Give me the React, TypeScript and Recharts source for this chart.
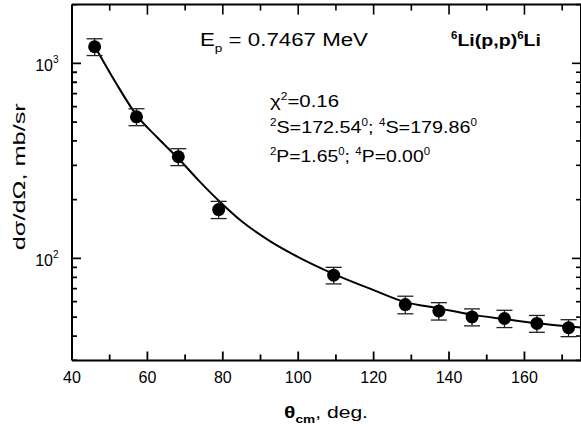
import React from 'react';
import { ComposedChart, Scatter, Line, XAxis, YAxis, ErrorBar } from 'recharts';

// measured points: angle (deg, cm), cross section (mb/sr), error (mb/sr)
const angles = [46.0, 57.1, 68.2, 78.9, 109.4, 128.4, 137.3, 146.1, 154.7, 163.3, 171.7];
const crossSections = [1216, 532, 332, 178, 82, 58, 53.8, 50.1, 49.2, 46.4, 44.1];
const errors = [120, 53, 33, 18, 8, 6, 5.5, 5, 5, 4.6, 4.4];

// fitted curve
const fitAngles = [46, 51.5, 57.1, 62.5, 68.1, 73.5, 79, 85, 92.5, 100, 109.5, 120, 128.4, 137, 146, 155, 163, 172, 175];
const fitValues = [1227, 802, 543, 419, 327, 252, 197, 155, 122.7, 101.6, 83.1, 68.8, 59.7, 55.6, 51.5, 48.8, 46.6, 44.7, 44.2];

const xTicks = [40, 50, 60, 70, 80, 90, 100, 110, 120, 130, 140, 150, 160, 170];
const xMajor = [40, 60, 80, 100, 120, 140, 160];
const yTicks = [30, 40, 50, 60, 70, 80, 90, 100, 200, 300, 400, 500, 600, 700, 800, 900, 1000, 2000];
const yMajor = [100, 1000];
const yLabels: Record<number, string> = { 100: '2', 1000: '3' };

const X_DOMAIN = [40, 175];
const Y_DOMAIN = [30, 2000];

const points = angles.map((a, i) => ({ x: a, y: crossSections[i], err: errors[i] }));
const fit = fitAngles.map((a, i) => ({ x: a, y: fitValues[i] }));
// inward tick marks on the bottom and left edges, placed through the data scales
const bottomMarks = xTicks.map((v) => ({ x: v, y: Y_DOMAIN[0] }));
const leftMarks = yTicks.map((v) => ({ x: X_DOMAIN[0], y: v }));

const FONT = '"Liberation Sans", Arial, sans-serif';
const W = 581;
const H = 429;
const MARGIN = { top: 3.6, right: 0, bottom: 38.6, left: 0 };
const LEFT_W = 72;
const RIGHT_W = 1;
const TOP_H = 1;
const BOTTOM_H = 30;
const PLOT_W = W + 1 - MARGIN.left - MARGIN.right - LEFT_W - RIGHT_W;
const PLOT_H = H - MARGIN.top - MARGIN.bottom - TOP_H - BOTTOM_H;

// top axis: inward ticks, plus the labels under the bottom edge
const TopTick = (props: any) => {
  const { x, y, payload } = props;
  const major = xMajor.includes(payload.value);
  return (
    <g>
      <path d={`M${x},${y}V${y + (major ? 10 : 6)}`} stroke="#000" strokeWidth={1.6} fill="none" />
      {major && (
        <text x={x} y={y + PLOT_H + 23} textAnchor="middle" fontSize={16} fontFamily={FONT} fill="#000">
          {payload.value}
        </text>
      )}
    </g>
  );
};

// right axis: inward ticks, plus the labels left of the left edge
const RightTick = (props: any) => {
  const { x, y, payload } = props;
  const major = yMajor.includes(payload.value);
  return (
    <g>
      <path d={`M${x},${y}H${x - (major ? 9 : 5)}`} stroke="#000" strokeWidth={1.6} fill="none" />
      {major && (
        <text x={x - PLOT_W - 13.5} y={y + 7.7} textAnchor="end" fontSize={16} fontFamily={FONT} fill="#000">
          10
          <tspan fontSize={10} dy={-8}>
            {yLabels[payload.value]}
          </tspan>
        </text>
      )}
    </g>
  );
};

const BottomMark = (p: any) => {
  const len = xMajor.includes(p.payload.x) ? 9 : 6;
  return <path d={`M${p.cx},${p.cy}V${p.cy - len}`} stroke="#000" strokeWidth={1.8} fill="none" />;
};

const LeftMark = (p: any) => {
  const len = yMajor.includes(p.payload.y) ? 9 : 5;
  return <path d={`M${p.cx},${p.cy}H${p.cx + len}`} stroke="#000" strokeWidth={1.8} fill="none" />;
};

const Dot = (props: any) => <circle cx={props.cx} cy={props.cy} r={6.5} fill="#000" />;
const NoDot = () => <g />;

export default function App() {
  const axisLine = { stroke: '#000', strokeWidth: 2 };
  const frame = {
    type: 'number' as const,
    allowDataOverflow: true,
    interval: 0 as const,
    tickSize: 0,
    tickMargin: 0,
    tickLine: false,
    axisLine,
  };
  return (
    <div style={{ position: 'absolute', left: 0, top: 0, width: W, height: H, overflow: 'hidden', background: '#fff' }}>
      <ComposedChart width={W + 1} height={H} margin={MARGIN}>
        {/* frame axes */}
        <XAxis xAxisId="b" dataKey="x" orientation="bottom" domain={X_DOMAIN} ticks={xTicks} tick={false} height={BOTTOM_H} {...frame} />
        <XAxis xAxisId="t" dataKey="x" orientation="top" domain={X_DOMAIN} ticks={xTicks} tick={TopTick} height={TOP_H} {...frame} />
        <YAxis yAxisId="l" dataKey="y" orientation="left" scale="log" domain={Y_DOMAIN} ticks={yTicks} tick={false} width={LEFT_W} {...frame} />
        <YAxis yAxisId="r" dataKey="y" orientation="right" scale="log" domain={Y_DOMAIN} ticks={yTicks} tick={RightTick} width={RIGHT_W} {...frame} />
        {/* data axes (hidden, same scales) */}
        <XAxis dataKey="x" type="number" domain={X_DOMAIN} allowDataOverflow hide height={0} />
        <YAxis dataKey="y" type="number" scale="log" domain={Y_DOMAIN} allowDataOverflow hide width={0} />
        <Scatter data={points} dataKey="y" xAxisId="b" yAxisId="l" shape={NoDot} isAnimationActive={false} />
        <Scatter data={points} dataKey="y" xAxisId="t" yAxisId="r" shape={NoDot} isAnimationActive={false} />
        <Line
          data={fit}
          dataKey="y"
          type="monotone"
          stroke="#000"
          strokeWidth={2}
          dot={false}
          isAnimationActive={false}
        />
        <Scatter data={points} dataKey="y" shape={Dot} isAnimationActive={false}>
          <ErrorBar dataKey="err" direction="y" width={8} stroke="#222" strokeWidth={1.3} />
        </Scatter>
        {/* edge tick marks drawn last so nothing paints over them */}
        <Scatter data={bottomMarks} dataKey="y" shape={BottomMark} isAnimationActive={false} />
        <Scatter data={leftMarks} dataKey="y" shape={LeftMark} isAnimationActive={false} />
      </ComposedChart>
      <svg
        width={W}
        height={H}
        style={{ position: 'absolute', left: 0, top: 0, pointerEvents: 'none' }}
        fontFamily={FONT}
        fill="#000"
      >
        <text x={200} y={45.5} fontSize={18} textLength={168} lengthAdjust="spacingAndGlyphs">
          E<tspan fontSize={11} dy={6}>p</tspan>
          <tspan dy={-6}> = 0.7467 MeV</tspan>
        </text>
        <text x={451} y={46} fontSize={17} fontWeight="bold" textLength={90} lengthAdjust="spacingAndGlyphs">
          <tspan fontSize={10} dy={-7}>6</tspan>
          <tspan dy={7}>Li(p,p)</tspan>
          <tspan fontSize={10} dy={-7}>6</tspan>
          <tspan dy={7}>Li</tspan>
        </text>
        <text x={270} y={107} fontSize={17} textLength={69} lengthAdjust="spacingAndGlyphs">
          χ<tspan fontSize={10} dy={-7}>2</tspan>
          <tspan dy={7}>=0.16</tspan>
        </text>
        <text x={270} y={133.3} fontSize={17} textLength={207} lengthAdjust="spacingAndGlyphs">
          <tspan fontSize={10} dy={-7}>2</tspan>
          <tspan dy={7}>S=172.54</tspan>
          <tspan fontSize={10} dy={-7}>0</tspan>
          <tspan dy={7}>; </tspan>
          <tspan fontSize={10} dy={-7}>4</tspan>
          <tspan dy={7}>S=179.86</tspan>
          <tspan fontSize={10} dy={-7}>0</tspan>
        </text>
        <text x={270} y={161.7} fontSize={17} textLength={160} lengthAdjust="spacingAndGlyphs">
          <tspan fontSize={10} dy={-7}>2</tspan>
          <tspan dy={7}>P=1.65</tspan>
          <tspan fontSize={10} dy={-7}>0</tspan>
          <tspan dy={7}>; </tspan>
          <tspan fontSize={10} dy={-7}>4</tspan>
          <tspan dy={7}>P=0.00</tspan>
          <tspan fontSize={10} dy={-7}>0</tspan>
        </text>
        <text
          transform="translate(25,176.7) rotate(-90)"
          textAnchor="middle"
          fontSize={17}
          textLength={147}
          lengthAdjust="spacingAndGlyphs"
        >
          dσ/dΩ, mb/sr
        </text>
        <text x={284} y={418} fontSize={17} textLength={84} lengthAdjust="spacingAndGlyphs">
          <tspan fontWeight="bold">θ</tspan>
          <tspan fontSize={11} fontWeight="bold" dy={5}>cm</tspan>
          <tspan dy={-5}>, deg.</tspan>
        </text>
      </svg>
    </div>
  );
}
